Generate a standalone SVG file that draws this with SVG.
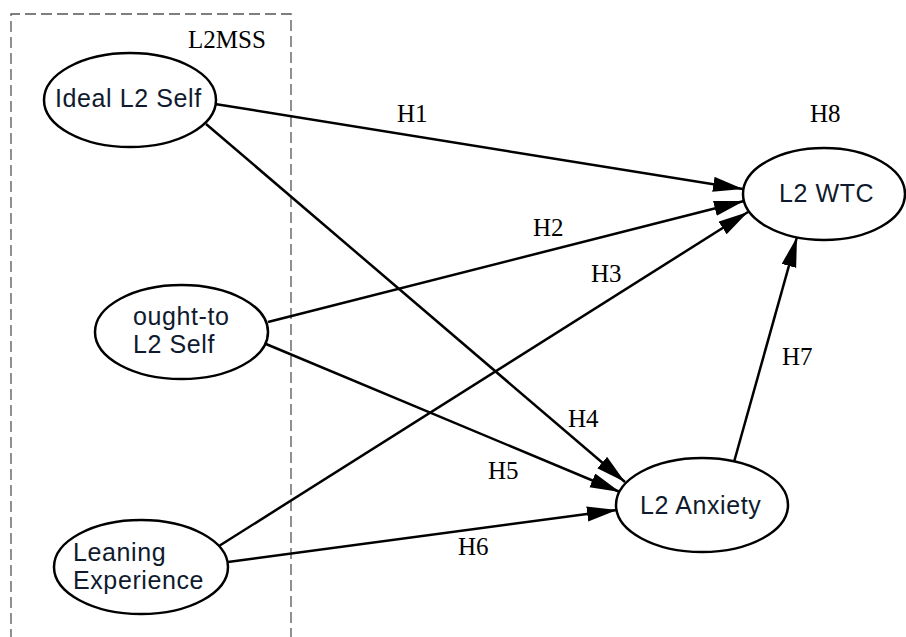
<svg xmlns="http://www.w3.org/2000/svg" width="906" height="637" viewBox="0 0 906 637">
<style>
.node ellipse{fill:#fff;stroke:#000;stroke-width:2.5}
.nt{font-family:"Liberation Sans",Arial,sans-serif;font-size:25px;letter-spacing:0.6px;fill:#0f1a2e}
.lb{font-family:"Liberation Serif","Times New Roman",serif;font-size:25px;fill:#000}
.edges line{stroke:#000;stroke-width:2.5;fill:none}
</style>
<defs>
<marker id="ah" markerUnits="userSpaceOnUse" markerWidth="32" markerHeight="16" refX="30" refY="7.5" orient="auto">
<path d="M0,0 L30,7.5 L0,15 z" fill="#000"/>
</marker>
</defs>
<rect width="906" height="637" fill="#fff"/>
<g id="cluster-l2mss">
<path d="M11,640 V14 H291 V640" fill="none" stroke="#555" stroke-width="1.3" stroke-dasharray="11 5"/>
<text class="lb" x="188" y="48">L2MSS</text>
</g>
<g class="edges" id="edges">
<line x1="215" y1="104" x2="743" y2="189" marker-end="url(#ah)"/>
<line x1="268" y1="322" x2="744" y2="201" marker-end="url(#ah)"/>
<line x1="219" y1="546" x2="748" y2="212" marker-end="url(#ah)"/>
<line x1="206" y1="124" x2="625" y2="482" marker-end="url(#ah)"/>
<line x1="266" y1="344" x2="620" y2="492" marker-end="url(#ah)"/>
<line x1="228" y1="562" x2="617" y2="510" marker-end="url(#ah)"/>
<line x1="734" y1="462" x2="797" y2="237" marker-end="url(#ah)"/>
<text class="lb" x="397" y="122">H1</text>
<text class="lb" x="533" y="236">H2</text>
<text class="lb" x="591" y="282">H3</text>
<text class="lb" x="568" y="427">H4</text>
<text class="lb" x="488" y="479">H5</text>
<text class="lb" x="458" y="555">H6</text>
<text class="lb" x="782" y="365">H7</text>
</g>
<g class="node" id="ideal">
<ellipse cx="130" cy="100" rx="86" ry="47"/>
<text class="nt" x="55" y="107">Ideal L2 Self</text>
</g>
<g class="node" id="ought">
<ellipse cx="181.5" cy="332" rx="86.5" ry="47"/>
<text class="nt" x="133" y="325">ought-to</text>
<text class="nt" x="133" y="353">L2 Self</text>
</g>
<g class="node" id="leaning">
<ellipse cx="141" cy="567" rx="87" ry="47"/>
<text class="nt" x="73" y="561">Leaning</text>
<text class="nt" x="73" y="589">Experience</text>
</g>
<g class="node" id="wtc">
<ellipse cx="824" cy="194" rx="81" ry="46"/>
<text class="nt" x="779" y="202">L2 WTC</text>
<text class="lb" x="810" y="122">H8</text>
</g>
<g class="node" id="anxiety">
<ellipse cx="702" cy="505" rx="86" ry="47"/>
<text class="nt" x="640" y="514">L2 Anxiety</text>
</g>
</svg>
